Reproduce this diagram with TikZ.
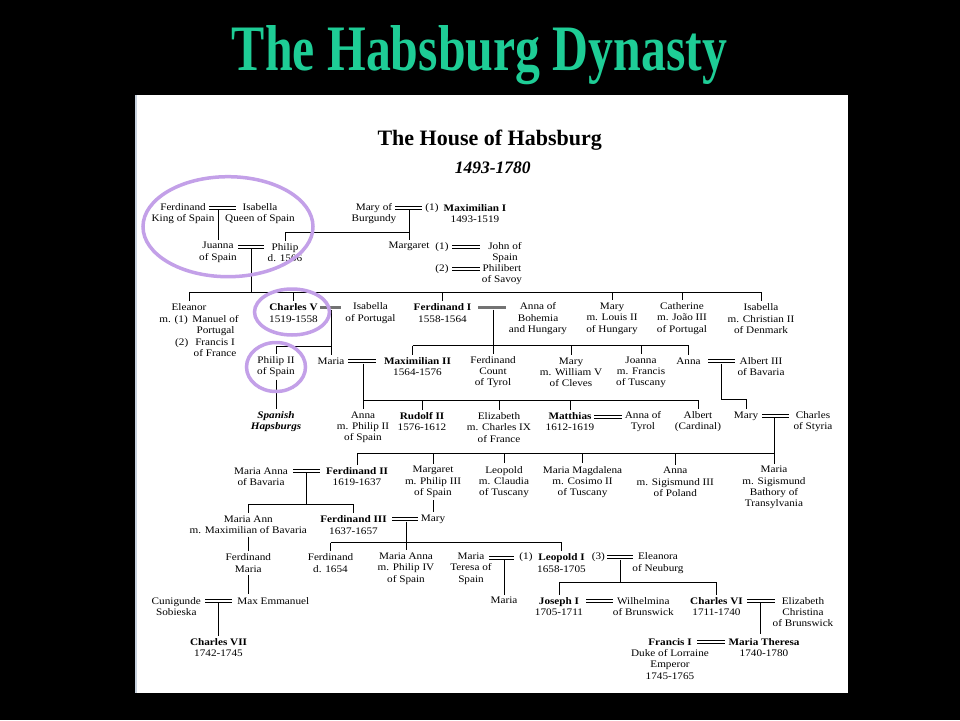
\documentclass[tikz,border=0pt]{standalone}
\usepackage{fontspec}
\setmainfont[FakeStretch=1.12]{Liberation Serif}
\newfontfamily\titlefont{Liberation Serif}
\usepackage{graphicx}
\definecolor{lav}{RGB}{195,160,232}
\definecolor{tgreen}{RGB}{30,205,150}
\definecolor{edgeblue}{RGB}{200,210,222}
\newcommand\pfnt{\fontsize{10}{11.3}\selectfont}
\tikzset{
  pn/.style={align=center, inner sep=2.5pt, font=\pfnt},
  marr/.style={double=white, double distance=1.8pt, line width=0.85pt},
  ln/.style={line width=0.9pt},
  gbar/.style={line width=3pt, draw=black!55},
  hl/.style={draw=lav, line width=3.5pt},
}
\begin{document}
\begin{tikzpicture}[x=1pt,y=-1pt]
\useasboundingbox (0,0) rectangle (960,720);
\fill[black] (0,0) rectangle (960,720);
\fill[white] (135,95) rectangle (848,693);
\draw[line width=2pt, edgeblue] (136,95) -- (136,693);

% titles
\node[anchor=base, text=tgreen, inner sep=0pt] (title) at (479.5,70) {\resizebox{495pt}{45pt}{\titlefont\bfseries The Habsburg Dynasty}};
\node[anchor=base, inner sep=0pt, font=\titlefont\fontsize{22}{24}\selectfont\bfseries] (house) at (489.7,145) {The House of Habsburg};
\node[anchor=base, inner sep=0pt, font=\titlefont\fontsize{17.5}{20}\selectfont\bfseries\itshape] (years) at (492.7,173.3) {1493-1780};

% generation 1-2
\node[pn] (ferd) at (183,213.7) {Ferdinand\\King of Spain};
\node[pn] (isab) at (260,213.7) {Isabella\\Queen of Spain};
\node[pn] (juanna) at (218,252.4) {Juanna\\of Spain};
\node[pn] (philip) at (285,252.4) {Philip\\d. 1506};
\node[pn] (maryb) at (374,213.7) {Mary of\\Burgundy};
\node[pn] (n1a) at (432,208) {(1)};
\node[pn] (maxi) at (475,213.7) {\textbf{Maximilian I}\\1493-1519};
\node[pn] (margaret) at (409,246.7) {Margaret};
\node[pn] (n1b) at (442,246.7) {(1)};
\node[pn] (john) at (505,252.4) {John of\\Spain};
\node[pn] (n2b) at (442,269) {(2)};
\node[pn] (phili) at (502,274.7) {Philibert\\of Savoy};

% row 3
\node[pn] (eleanor) at (189,307.3) {Eleanor};
\node[pn, anchor=east, inner xsep=0pt] (elm) at (188,320) {m. (1)};
\node[pn, anchor=east, inner xsep=0pt] (el2) at (188.5,342.7) {(2)};
\node[pn] (elman) at (215.5,325.9) {Manuel of\\Portugal};
\node[pn] (elfra) at (215,348) {Francis I\\of France};
\node[pn] (charles5) at (293.5,313) {\textbf{Charles V}\\1519-1558};
\node[pn] (isabp) at (370.5,313) {Isabella\\of Portugal};
\node[pn] (ferd1) at (442.5,313) {\textbf{Ferdinand I}\\1558-1564};
\node[pn] (annab) at (538,318.6) {Anna of\\Bohemia\\and Hungary};
\node[pn] (maryh) at (612,318.6) {Mary\\m. Louis II\\of Hungary};
\node[pn] (cath) at (682,318.6) {Catherine\\m. João III\\of Portugal};
\node[pn] (isabd) at (761,318.6) {Isabella\\m. Christian II\\of Denmark};

% row 4
\node[pn] (philip2) at (276,366.7) {Philip II\\of Spain};
\node[pn] (maria) at (331,361) {Maria};
\node[pn] (max2) at (417.5,366.7) {\textbf{Maximilian II}\\1564-1576};
\node[pn] (ferdt) at (493,372.3) {Ferdinand\\Count\\of Tyrol};
\node[pn] (maryc) at (571,372.3) {Mary\\m. William V\\of Cleves};
\node[pn] (joanna) at (641,372.3) {Joanna\\m. Francis\\of Tuscany};
\node[pn] (annaa) at (688.5,361) {Anna};
\node[pn] (albert3) at (761,366.7) {Albert III\\of Bavaria};

% row 5
\node[pn, font=\pfnt\bfseries\itshape] (spanish) at (276,421.7) {Spanish\\Hapsburgs};
\node[pn] (annap) at (363,427.3) {Anna\\m. Philip II\\of Spain};
\node[pn] (rudolf) at (422,421.7) {\textbf{Rudolf II}\\1576-1612};
\node[pn] (eliz) at (499,427.3) {Elizabeth\\m. Charles IX\\of France};
\node[pn] (matthias) at (570,421.7) {\textbf{Matthias}\\1612-1619};
\node[pn] (annat) at (643,421.7) {Anna of\\Tyrol};
\node[pn] (albertc) at (698,421.7) {Albert\\(Cardinal)};
\node[pn] (marys) at (746,416) {Mary};
\node[pn] (charless) at (813,421.7) {Charles\\of Styria};

% row 6
\node[pn] (mariaab) at (261,476.4) {Maria Anna\\of Bavaria};
\node[pn] (ferd2) at (357,476.4) {\textbf{Ferdinand II}\\1619-1637};
\node[pn] (margp) at (433,482) {Margaret\\m. Philip III\\of Spain};
\node[pn] (leopold) at (504,482) {Leopold\\m. Claudia\\of Tuscany};
\node[pn] (mariam) at (582.5,482) {Maria Magdalena\\m. Cosimo II\\of Tuscany};
\node[pn] (annapol) at (675.3,482) {Anna\\m. Sigismund III\\of Poland};
\node[pn] (mariat) at (774,487.7) {Maria\\m. Sigismund\\Bathory of\\Transylvania};

% row 7
\node[pn] (mariaann) at (248.3,525) {Maria Ann\\m. Maximilian of Bavaria};
\node[pn] (ferd3) at (353.5,525) {\textbf{Ferdinand III}\\1637-1657};
\node[pn] (marym) at (433,519.3) {Mary};

% row 8
\node[pn] (ferdm) at (248.3,563) {Ferdinand\\Maria};
\node[pn] (ferd1654) at (330.5,563) {Ferdinand\\d. 1654};
\node[pn] (mariaap) at (406,568.6) {Maria Anna\\m. Philip IV\\of Spain};
\node[pn] (mariats) at (471,568.6) {Maria\\Teresa of\\Spain};
\node[pn] (n1c) at (526,557.3) {(1)};
\node[pn] (leo1) at (561.5,563) {\textbf{Leopold I}\\1658-1705};
\node[pn] (n3) at (598.3,557.3) {(3)};
\node[pn] (eleanora) at (658,563) {Eleanora\\of Neuburg};

% row 9
\node[pn] (cuni) at (176.3,606.4) {Cunigunde\\Sobieska};
\node[pn] (maxe) at (273.3,600.7) {Max Emmanuel};
\node[pn] (mariaL) at (504,600.7) {Maria};
\node[pn] (joseph) at (559,606.4) {\textbf{Joseph I}\\1705-1711};
\node[pn] (wilh) at (643.3,606.4) {Wilhelmina\\of Brunswick};
\node[pn] (charles6) at (716.5,606.4) {\textbf{Charles VI}\\1711-1740};
\node[pn] (elizc) at (803,612) {Elizabeth\\Christina\\of Brunswick};

% row 10
\node[pn] (charles7) at (218.5,647.4) {\textbf{Charles VII}\\1742-1745};
\node[pn] (francis) at (670,658.7) {\textbf{Francis I}\\Duke of Lorraine\\Emperor\\1745-1765};
\node[pn] (mariath) at (764,647.4) {\textbf{Maria Theresa}\\1740-1780};

% marriages
\draw[marr] (209,208) -- (236,208);
\draw[marr] (238,247) -- (264,247);
\draw[marr] (395,208) -- (422,208);
\draw[marr] (452,247) -- (480,247);
\draw[marr] (452,269) -- (480,269);
\draw[gbar] (320,307.5) -- (341,307.5);
\draw[gbar] (478,307.5) -- (506,307.5);
\draw[marr] (348,361) -- (376,361);
\draw[marr] (708,361) -- (735,361);
\draw[marr] (594,417) -- (622,417);
\draw[marr] (762,416) -- (789,416);
\draw[marr] (293,471) -- (320,471);
\draw[marr] (392,519) -- (418,519);
\draw[marr] (489,558) -- (514,558);
\draw[marr] (607,557) -- (633,557);
\draw[marr] (205,601) -- (232,601);
\draw[marr] (586,601) -- (613,601);
\draw[marr] (747,601) -- (775,601);
\draw[marr] (697,642) -- (725,642);

% descent lines
\coordinate (barA) at (0,292);
\coordinate (barB) at (0,346);
\coordinate (barC) at (0,345.7);
\coordinate (barD) at (0,400);
\coordinate (barE) at (0,453.3);
\coordinate (barF) at (0,504);
\coordinate (barG) at (0,542.7);
\coordinate (barH) at (0,582.7);

\draw[ln] (218,210) -- (juanna.north);
\draw[ln] (409,210) -- (margaret.north);
\draw[ln] (409,232) -| (philip.north);

\draw[ln] (251,249) -- (251,292);
\draw[ln] (eleanor.north |- barA) -- (isabd.north |- barA);
\foreach \n in {eleanor,charles5,ferd1,maryh,cath,isabd}
  \draw[ln] (\n.north |- barA) -- (\n.north);

\draw[ln] (331,309.5) -- (maria.north);
\draw[ln] (philip2.north |- barB) -- (maria.north |- barB);
\draw[ln] (philip2.north |- barB) -- (philip2.north);
\draw[ln] (philip2.south) -- (spanish.north);

\draw[ln] (493,309.5) -- (ferdt.north);
\draw[ln] (412.7,345.7) -- (annaa.north |- barC);
\draw[ln] (412.7,345.7) -- (412.7,354.5);
\foreach \n in {maryc,joanna,annaa}
  \draw[ln] (\n.north |- barC) -- (\n.north);

\draw[ln] (363,363.5) -- (annap.north);
\draw[ln] (annap.north |- barD) -- (albertc.north |- barD);
\foreach \n in {rudolf,eliz,matthias,albertc}
  \draw[ln] (\n.north |- barD) -- (\n.north);

\draw[ln] (721,363.5) -- (721,399.5) -| (marys.north);

\draw[ln] (774,418) -- (mariat.north);
\draw[ln] (ferd2.north |- barE) -- (mariat.north |- barE);
\foreach \n in {ferd2,margp,leopold,mariam,annapol}
  \draw[ln] (\n.north |- barE) -- (\n.north);

\draw[ln] (306.7,473) -- (306.7,504);
\draw[ln] (mariaann.north |- barF) -- (ferd3.north |- barF);
\foreach \n in {mariaann,ferd3}
  \draw[ln] (\n.north |- barF) -- (\n.north);
\draw[ln] (margp.south) -- (marym.north);

\draw[ln] (406,521.5) -- (mariaap.north);
\draw[ln] (ferd1654.north |- barG) -- (leo1.north |- barG);
\foreach \n in {ferd1654,leo1}
  \draw[ln] (\n.north |- barG) -- (\n.north);

\draw[ln] (mariaann.south) -- (ferdm.north);
\draw[ln] (ferdm.south) -- (ferdm.south |- maxe.north);
\draw[ln] (218.5,603) -- (charles7.north);
\draw[ln] (504,560) -- (mariaL.north);

\draw[ln] (620.7,559.8) -- (620.7,582.7);
\draw[ln] (joseph.north |- barH) -- (charles6.north |- barH);
\foreach \n in {joseph,charles6}
  \draw[ln] (\n.north |- barH) -- (\n.north);
\draw[ln] (760,603) -- (760,633.5);

% highlight circles
\draw[hl] (228,226.7) ellipse [x radius=85pt, y radius=50pt];
\draw[hl] (292,312) ellipse [x radius=37.5pt, y radius=23pt];
\draw[hl] (276,367) ellipse [x radius=29.5pt, y radius=24.5pt];
\end{tikzpicture}
\end{document}
